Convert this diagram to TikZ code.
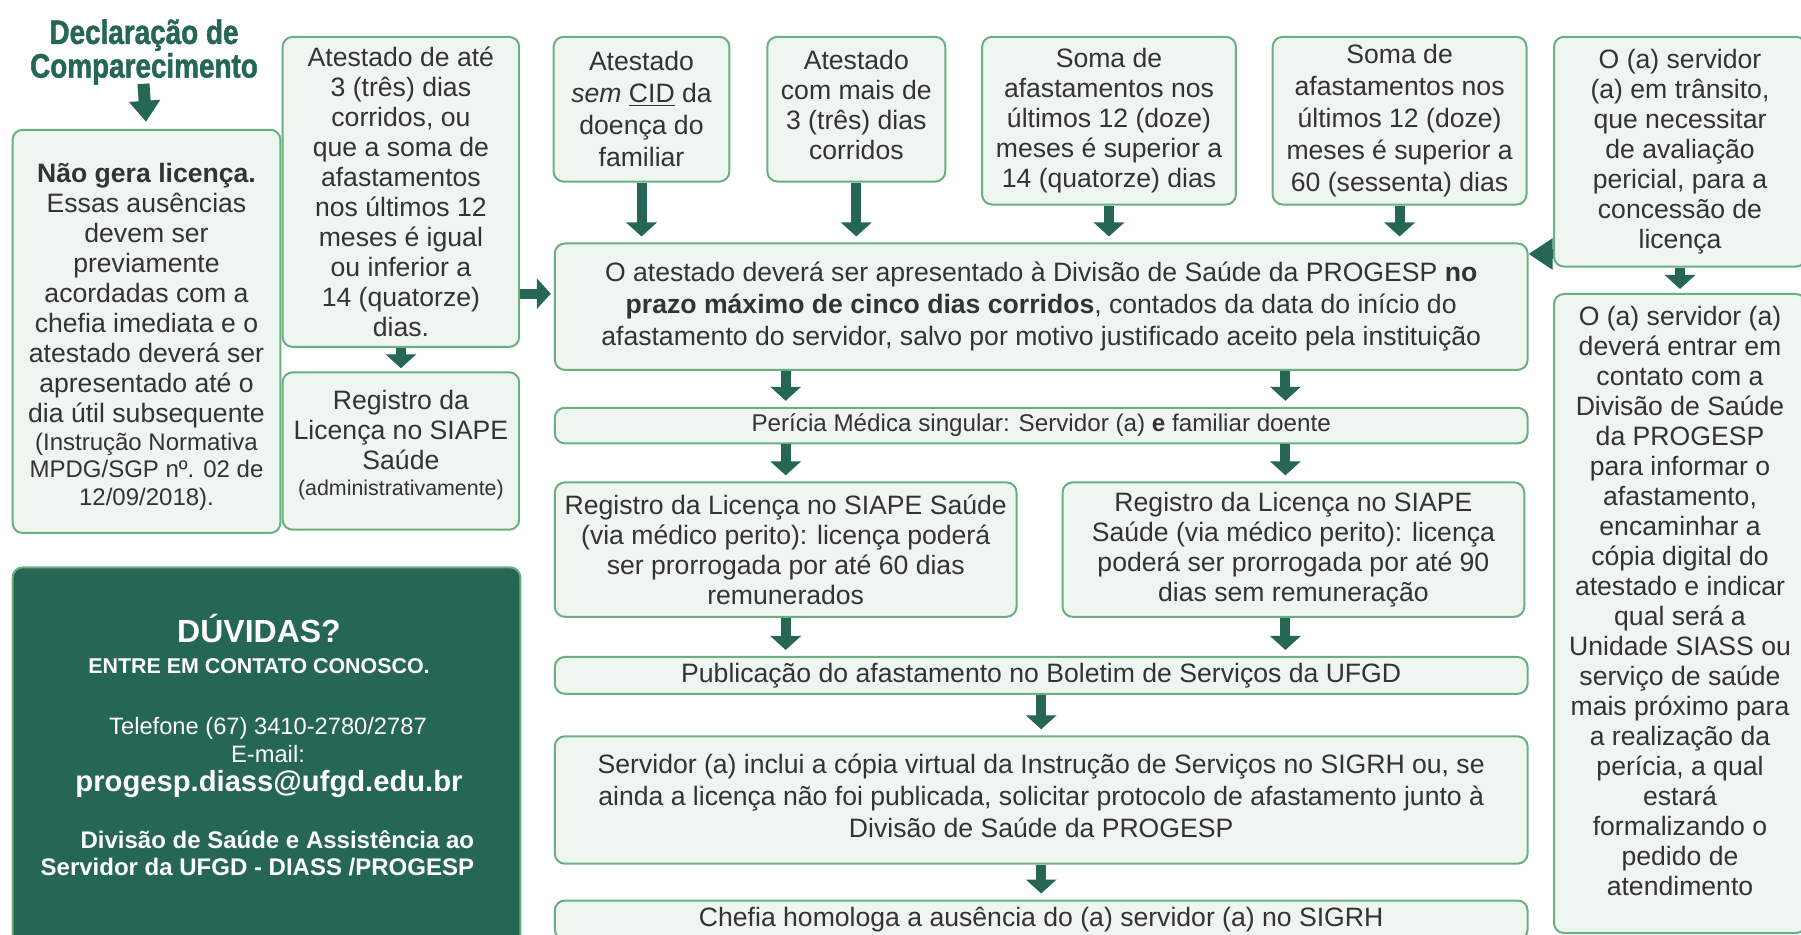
\documentclass[tikz,border=0pt]{standalone}
\usepackage{fontspec}
\setmainfont{Liberation Sans}
\newfontfamily\condfont[FakeStretch=0.82, FakeBold=1.3]{Liberation Sans}
\usetikzlibrary{arrows.meta, positioning}

\definecolor{dgreen}{HTML}{266655}
\definecolor{lgreen}{HTML}{EEF6EF}
\definecolor{bgreen}{HTML}{6BAE84}
\definecolor{txtgray}{HTML}{333333}

\newcommand{\bodytxt}{\fontsize{13.3}{15}\selectfont}
\newcommand{\smalltxt}{\fontsize{12}{13.8}\selectfont}

\begin{document}
\begin{tikzpicture}[
    x=0.5pt, y=-0.5pt,
    box/.style={draw=bgreen, fill=lgreen, line width=1pt, rounded corners=5pt, align=center, inner sep=0pt, text=txtgray, font=\bodytxt},
    flow/.style={draw=dgreen, line width=5pt, -{Triangle[width=15pt, length=7pt]}, shorten >=3pt},
    duvtxt/.style={text=white, align=center, inner sep=0pt}
]
\useasboundingbox (0,0) rectangle (1801,935);
\clip (0,0) rectangle (1801,935);

% left column
\node[text=dgreen, align=center, font=\condfont\bfseries\fontsize{17}{15.6}\selectfont] (title) at (144,52) {Declaração de\\Comparecimento};
\node[box, minimum width=133.9pt, minimum height=201.6pt] (nogera) at (146.5,331.4) {\mbox{}\\\textbf{Não gera licença.}\\Essas ausências\\devem ser\\previamente\\acordadas com a\\chefia imediata e o\\atestado deverá ser\\apresentado até o\\dia útil subsequente\\[-1.1pt]\smalltxt (Instrução Normativa\\[-1.1pt]\smalltxt MPDG/SGP nº. 02 de\\[-1.1pt]\smalltxt 12/09/2018).};
\node[box, minimum width=118.3pt, minimum height=155pt] (ate3) at (400.9,191.9) {Atestado de até\\3 (três) dias\\corridos, ou\\que a soma de\\afastamentos\\nos últimos 12\\meses é igual\\ou inferior a\\14 (quatorze)\\dias.};
\node[box, minimum width=118.3pt, minimum height=78.7pt] (regadm) at (400.9,451) {Registro da\\Licença no SIAPE\\Saúde\\[-2pt]\fontsize{10.7}{12}\selectfont (administrativamente)\\[-6.8pt]};
\node[draw=bgreen, fill=dgreen, line width=1pt, rounded corners=5pt, minimum width=253.9pt, minimum height=191.3pt] (duv) at (266.5,758.7) {};
\node[duvtxt, font=\bfseries\fontsize{16}{18}\selectfont] (duvhead) at (259,628) {DÚVIDAS?};
\node[duvtxt, font=\bfseries\fontsize{10.7}{12}\selectfont] (duvsub) at (259,666) {ENTRE EM CONTATO CONOSCO.};
\node[duvtxt, font=\fontsize{11.85}{13.6}\selectfont] (duvphone) at (268,740) {Telefone (67) 3410-2780/2787\\E-mail:};
\node[duvtxt, font=\bfseries\fontsize{14.6}{16}\selectfont] (duvmail) at (269,784) {progesp.diass@ufgd.edu.br};
\node[duvtxt, align=right, anchor=east, font=\bfseries\fontsize{12}{13.6}\selectfont] (duvunit) at (474.5,853.5) {Divisão de Saúde e Assistência ao\\Servidor da UFGD - DIASS /PROGESP};

% top row
\node[box, minimum width=87.9pt, minimum height=72.35pt] (semcid) at (641.5,109.2) {Atestado\\[1pt]\textit{sem} \underline{CID} da\\[1pt]doença do\\[1pt]familiar};
\node[box, minimum width=89pt, minimum height=72.35pt] (mais3) at (856.3,109.2) {Atestado\\com mais de\\3 (três) dias\\corridos\\[-10.4pt]};
\node[box, minimum width=126.9pt, minimum height=83.85pt] (soma14) at (1109,120.7) {Soma de\\afastamentos nos\\últimos 12 (doze)\\meses é superior a\\14 (quatorze) dias};
\node[box, minimum width=126.9pt, minimum height=83.85pt] (soma60) at (1399.6,120.7) {Soma de\\[1pt]afastamentos nos\\[1pt]últimos 12 (doze)\\[1pt]meses é superior a\\[1pt]60 (sessenta) dias};
\node[box, minimum width=126pt, minimum height=114.85pt] (transito) at (1680,151.7) {O (a) servidor\\(a) em trânsito,\\que necessitar\\de avaliação\\pericial, para a\\concessão de\\licença};
\node[box, minimum width=126pt, minimum height=319.5pt] (contato) at (1680,613.5) {O (a) servidor (a)\\deverá entrar em\\contato com a\\Divisão de Saúde\\da PROGESP\\para informar o\\afastamento,\\encaminhar a\\cópia digital do\\atestado e indicar\\qual será a\\Unidade SIASS ou\\serviço de saúde\\mais próximo para\\a realização da\\perícia, a qual\\estará\\formalizando o\\pedido de\\atendimento\\[-2pt]};

% middle column
\node[box, minimum width=486.4pt, minimum height=63.2pt] (main) at (1041.2,306.7) {O atestado deverá ser apresentado à Divisão de Saúde da PROGESP \textbf{no}\\[1pt]\textbf{prazo máximo de cinco dias corridos}, contados da data do início do\\[1pt]afastamento do servidor, salvo por motivo justificado aceito pela instituição};
\node[box, minimum width=486.4pt, minimum height=17.8pt, font=\fontsize{12.1}{14}\selectfont] (pericia) at (1041.2,425.6) {Perícia Médica singular: Servidor (a) \textbf{e} familiar doente};
\node[box, minimum width=230.85pt, minimum height=67.2pt] (regL) at (785.7,549.6) {Registro da Licença no SIAPE Saúde\\(via médico perito): licença poderá\\ser prorrogada por até 60 dias\\remunerados};
\node[box, minimum width=230.85pt, minimum height=67.2pt] (regR) at (1293.4,549.6) {Registro da Licença no SIAPE\\Saúde (via médico perito): licença\\poderá ser prorrogada por até 90\\dias sem remuneração};
\node[box, minimum width=486.4pt, minimum height=18.4pt] (pub) at (1041.2,675.4) {Publicação do afastamento no Boletim de Serviços da UFGD};
\node[box, minimum width=486.4pt, minimum height=63.7pt] (serv) at (1041.2,800) {Servidor (a) inclui a cópia virtual da Instrução de Serviços no SIGRH ou, se\\[1pt]ainda a licença não foi publicada, solicitar protocolo de afastamento junto à\\[1pt]Divisão de Saúde da PROGESP\\[-11pt]};
\node[box, minimum width=486.4pt, minimum height=19.5pt] (chefia) at (1041.2,920) {Chefia homologa a ausência do (a) servidor (a) no SIGRH};

% arrows
\draw[flow, line width=6pt, -{Triangle[width=15pt, length=10.5pt]}, shorten <=-4pt, shorten >=3.5pt] (title.south) -- (nogera.north);
\draw[flow, shorten >=1.5pt] (ate3) -- (regadm);
\draw[flow, shorten >=1.5pt] ([yshift=6.5pt]main.west -| ate3.east) -- ([yshift=6.5pt]main.west);
\draw[flow] (semcid) -- (semcid |- main.north);
\draw[flow] (mais3) -- (mais3 |- main.north);
\draw[flow] (soma14) -- (soma14 |- main.north);
\draw[flow] (soma60) -- (soma60 |- main.north);
\draw[flow, -{Triangle[width=15pt, length=12pt]}, shorten >=0pt] ([yshift=-5.75pt]main.north east -| transito.west) -- ([yshift=-5.75pt]main.north east);
\draw[flow, shorten >=2pt] (transito) -- (contato);
\draw[flow] (main.south -| regL) -- (pericia.north -| regL);
\draw[flow] ([xshift=-4pt]main.south -| regR) -- ([xshift=-4pt]pericia.north -| regR);
\draw[flow] (pericia.south -| regL) -- (regL);
\draw[flow] ([xshift=-4pt]pericia.south -| regR) -- ([xshift=-4pt]regR.north);
\draw[flow] (regL) -- (regL |- pub.north);
\draw[flow] ([xshift=-4pt]regR.south) -- ([xshift=-4pt]regR.south |- pub.north);
\draw[flow] (pub) -- (serv);
\draw[flow] (serv) -- (chefia);

\end{tikzpicture}
\end{document}
